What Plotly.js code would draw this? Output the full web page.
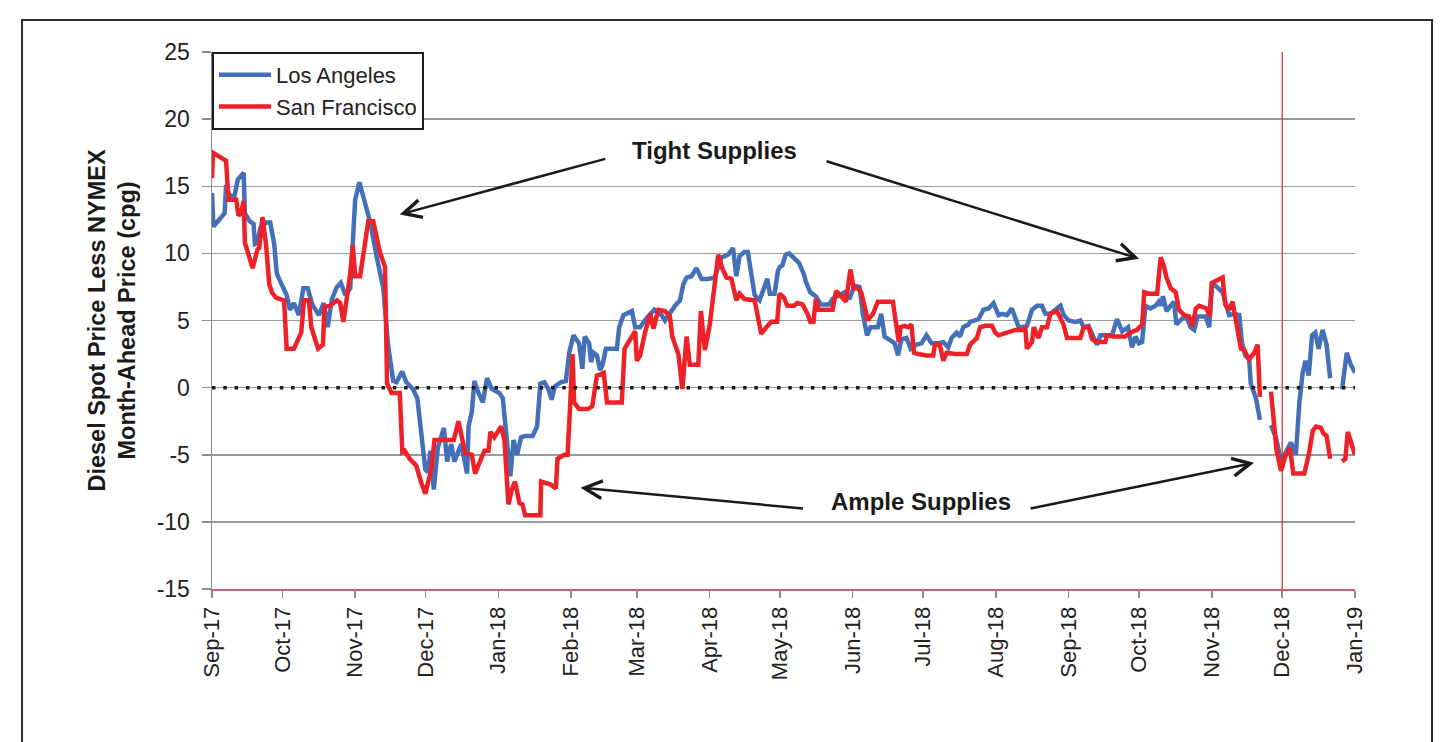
<!DOCTYPE html>
<html>
<head>
<meta charset="utf-8">
<script src="https://cdn.plot.ly/plotly-3.0.1.min.js"></script>
<style>
  html, body { margin: 0; padding: 0; background: #ffffff; }
  #chart { width: 1449px; height: 742px; }
</style>
</head>
<body>
<div id="chart"></div>
<script>
// Day offsets are counted from 1 Sep 2017; null = no price reported.
const startDate = '2017-09-01';

const laSeries = [
  [0,14.5],[0.6,12],[5.4,13],[6,15.1],[7.5,14.3],[9.6,14.3],[11,15.5],[13.5,16.0],[14,13],[16,12.4],
  [17.7,12.2],[18.3,10.7],[19.4,10.8],[20.6,11.9],[23,12.3],[24.8,12.3],[26.5,10.7],[27.6,8.5],[28.6,8.1],
  [30.7,7.4],[31.8,6.9],[33.2,5.8],[34.9,6.3],[37,5.4],[38.9,7.4],[40.8,7.4],[42.7,6.2],[45.5,5.4],[47.6,6.3],
  [49.3,4.5],[51.1,6.6],[53.2,7.5],[54.9,7.8],[56.8,6.9],[58.9,7.4],[60,10.8],[61,14.0],[62.8,15.3],[64.5,14.3],
  [67.3,12.4],[70.1,9.8],[73,7.4],[75,3.2],[76.5,1.6],[77.2,0.5],[78.6,0.4],[81,1.2],[82.8,0.4],[85.6,-0.1],
  [87.5,-0.8],[89.2,-3.3],[90.9,-6.1],[92,-6.3],[93.1,-4.7],[94.5,-7.6],[96.2,-4.5],[98.8,-3.0],[100.2,-5.5],
  [101.9,-4.2],[103.3,-5.5],[106.2,-4.2],[108.7,-6.4],[109.3,-2.9],[110.7,-1.8],[111.8,0.5],[113.5,-0.4],
  [115.4,-1.1],[117.2,0.7],[119.2,-0.1],[122.4,-0.4],[123.9,-0.8],[125.3,-3.7],[127.1,-6.6],[128.5,-3.9],
  [130,-5.0],[131.7,-3.7],[133.4,-3.6],[136.6,-3.6],[138.5,-2.9],[139.9,0.3],[141.6,0.4],[143.3,-0.1],
  [144.7,-0.9],[146.1,0.1],[148.6,0.4],[150.8,0.5],[152.2,2.6],[154,3.9],[156.4,3.3],[157.8,1.4],[158.8,3.8],
  [160.7,3.3],[161.5,1.9],[162.5,2.6],[164,2.4],[165.4,1.3],[166.4,1.7],[167.8,2.9],[172.5,2.9],[173.5,4.5],
  [175.3,5.4],[178.9,5.7],[180.3,4.5],[182.4,4.5],[185.2,5.2],[188.5,5.8],[191.6,5.4],[193,5.0],[195.1,5.6],
  [197.3,6.1],[199.4,6.5],[200.8,7.7],[202.2,8.2],[204.3,8.3],[206.4,8.9],[208.6,8.1],[211.4,8.1],[214.2,8.2],
  [215.7,9.0],[217.1,9.7],[218.5,9.8],[219.9,9.9],[222,10.4],[223.4,8.3],[224.8,9.8],[226.9,10.1],[228.3,10.1],
  [229.8,8.2],[231.2,6.9],[233.3,6.5],[234.7,7.1],[236.6,8.1],[237.7,7.0],[239.7,7.0],[241.1,8.7],[242,9.0],
  [243,9.1],[244.4,9.9],[245.9,10.0],[248.7,9.6],[250.1,9.3],[252.3,8.4],[253,7.9],[254.9,7.1],[257.3,6.8],
  [259.4,6.2],[263,6.2],[264.4,6.6],[266.6,6.8],[269.4,7.1],[271.6,6.6],[273.7,7.6],[275.9,7.5],[277.3,5.5],
  [279.1,3.9],[280.6,4.5],[283.7,4.5],[285.1,5.5],[286.6,3.8],[288.7,3.6],[290.9,3.3],[292.3,2.4],[293.7,3.6],
  [295.9,3.7],[297.7,2.9],[300.1,3.2],[302.3,3.3],[304.4,3.9],[306.6,3.3],[309.4,3.3],[311.6,3.4],[313.7,3.0],
  [315.1,3.7],[317.3,4.1],[318.7,3.8],[320.1,4.5],[322.3,4.7],[323,4.9],[326.6,5.1],[328.7,5.8],[330.9,5.9],
  [333,6.3],[335.1,5.4],[336.6,5.5],[338.7,5.4],[340.8,5.9],[342.3,5.1],[343.7,4.5],[345.1,4.5],[347.2,4.6],
  [349.4,5.8],[351.5,6.1],[353.6,6.1],[355.1,5.5],[357.2,5.5],[359.3,5.8],[361.5,6.1],[362.9,5.4],[365,5.0],
  [367.9,4.9],[370,5.0],[371.4,4.5],[373.5,4.6],[375.7,3.7],[377.1,3.2],[378.5,3.9],[383.5,3.9],[385.6,5.1],
  [387.8,4.2],[390.3,4.5],[392,3.0],[393.5,3.8],[394.9,3.3],[396.3,3.4],[397.7,6.1],[399.9,5.9],[402,6.1],
  [403.4,6.4],[404.2,6.1],[405.2,6.8],[406.7,5.7],[408.5,6.1],[409.9,6.4],[410.9,4.7],[412.3,5.0],[414.2,5.3],
  [415.6,5.1],[417,4.5],[418.5,4.3],[419.9,5.3],[423.4,5.3],[424.9,4.5],[426,7.6],[427.4,7.6],[428.8,7.4],
  [430.6,7.1],[432,6.2],[433.4,5.4],[435.5,5.5],[437.7,5.4],[438.8,3.4],[440.2,2.4],[441.9,2.1],[442.6,0.3],
  [444.8,-0.8],[446.5,-2.4],[449,null],[451.2,-2.8],[453.3,-3.7],[455.5,-5.5],[457.6,-4.7],[459.7,-4.1],
  [461.8,-5.0],[463.3,-1.1],[464.7,1.1],[465.9,2.0],[467.3,0.9],[468.7,3.9],[470.1,4.1],[471.5,2.9],[473.2,4.3],
  [474.9,3.2],[476.4,0.7],[479,null],[481.5,-0.1],[483.5,2.6],[485,1.8],[487,1.1]
];

const sfSeries = [
  [0,15.6],[0.4,17.5],[6,16.9],[7,14.0],[10.3,14.0],[11.3,12.8],[12.4,13],[13.5,13.9],[14,10.8],[16,9.8],
  [17.3,8.9],[19.4,10.3],[20.1,10.4],[21.5,12.7],[23,10.7],[24.4,7.7],[25.5,7.1],[27.2,6.7],[30.7,6.5],
  [31.8,2.9],[34.9,2.9],[38,4.1],[39.2,6.5],[41.3,6.5],[42.3,4.5],[45.2,2.9],[47.3,3.2],[47.9,6.0],[50.4,6.1],
  [53.2,6.5],[54.6,6.3],[56,4.9],[57.5,6.6],[58.9,8.5],[60,10.6],[61,8.3],[63.1,8.3],[64.5,10.1],[66.6,12.4],
  [68.7,12.4],[71.5,10.1],[73.7,9.0],[74.6,0.3],[76.5,-0.4],[80,-0.4],[81.1,-4.8],[82.1,-4.7],[84.2,-5.3],
  [87,-5.8],[89.2,-7.1],[90.9,-7.9],[92,-7.1],[93.4,-6.1],[94.8,-3.9],[97.7,-3.9],[103,-3.9],[105,-2.5],
  [106.2,-3.4],[107.9,-4.9],[110.7,-5.0],[112.1,-6.4],[114.4,-5.4],[116.1,-4.7],[117.8,-4.7],[118.6,-3.3],
  [120.3,-3.7],[123.2,-2.9],[124.6,-3.9],[126.3,-8.7],[127.7,-7.6],[129.1,-7.0],[131,-8.6],[132.3,-8.7],
  [133.4,-9.5],[139.9,-9.5],[140.2,-7.0],[141.6,-7.1],[144.1,-7.2],[146.5,-7.5],[147.2,-5.3],[150.1,-5.0],
  [151.5,-5.0],[152.6,-1.3],[153.6,2.5],[154.3,-1.1],[156.4,-1.6],[160,-1.6],[162,-1.4],[164,0.9],[166.9,1.1],
  [168.3,-1.1],[174.6,-1.1],[175.8,2.9],[178.2,3.6],[180.3,4.2],[181,2.0],[182.4,2.4],[184.5,4.1],[186.7,5.5],
  [188.1,4.4],[190.2,5.8],[193,5.7],[195.1,5.3],[196.1,3.8],[198.7,2.5],[200.4,-0.1],[202.2,3.8],[203.6,1.7],
  [207.2,1.7],[208.3,5.7],[210,2.8],[212.1,4.7],[214.2,7.7],[215.7,9.9],[217.4,8.9],[219.2,8.2],[221.3,8.1],
  [223.4,6.5],[224.8,7.0],[226.9,6.6],[231.2,6.5],[234,4.0],[236.2,4.5],[238.3,4.9],[240.8,4.9],[241.8,7.0],
  [243.7,6.7],[245.1,6.1],[248,6.1],[249.4,6.3],[251.6,6.2],[253.7,5.5],[254.9,4.9],[256.3,4.9],[257.3,6.6],
  [258.3,5.8],[264.4,5.8],[265.9,7.2],[268,6.8],[270.1,6.4],[272,8.8],[273.4,7.4],[275.1,7.4],[276.6,7.1],
  [278,6.1],[279.4,5.0],[281.6,5.5],[283.7,6.4],[290.1,6.4],[291.1,5.0],[292.6,3.4],[293.4,4.5],[295.1,4.6],
  [296.6,4.5],[298,4.7],[299.1,2.6],[300.9,2.5],[304.4,2.4],[307.3,2.4],[308,3.2],[310.1,3.2],[311.6,2.0],
  [313,2.6],[316.6,2.5],[321.6,2.5],[323,3.2],[324.9,3.6],[325.9,3.7],[327.3,4.5],[329.4,4.6],[332.3,4.6],
  [333.7,4.1],[335.1,3.9],[339.4,4.1],[342.3,4.3],[345.1,4.3],[346.5,4.5],[347.2,2.9],[349.4,3.4],[350.1,4.5],
  [352.2,3.7],[353.6,4.5],[355.8,4.5],[357.2,5.5],[360,5.7],[362.8,4.7],[364.3,3.7],[370,3.7],[371.4,4.5],
  [373.5,4.5],[375,3.6],[377.1,3.4],[380.6,3.4],[381.3,3.9],[384.2,3.8],[389.1,3.8],[391.3,4.1],[394.1,4.3],
  [396.3,4.7],[397.2,7.1],[399.1,7.0],[402.7,7.0],[404.2,9.7],[405.5,9.1],[406.7,8.2],[408.5,7.4],[410.6,7.1],
  [412,5.8],[414.2,5.4],[416.3,5.3],[417.7,4.6],[419.2,5.9],[420.6,6.1],[423.7,5.9],[425.1,5.3],[426,7.8],
  [428.4,8.0],[430.6,8.2],[431.7,6.2],[433.4,5.8],[434.8,6.4],[436.2,5.1],[438.4,2.9],[439.8,2.8],[441.9,2.1],
  [444.1,2.6],[445.5,3.2],[446.5,-0.7],[449,null],[451.2,-0.3],[452.2,-2.4],[453.6,-4.7],[455.5,-6.2],
  [457.3,-5.1],[459.3,-4.5],[460.7,-6.4],[465.4,-6.4],[467.3,-5.0],[469,-3.2],[470.4,-2.9],[472.5,-3.0],
  [473.5,-3.4],[474.9,-3.6],[476.4,-5.3],[479,null],[481.5,-5.5],[482.9,-5.3],[483.9,-3.3],[486,-4.6],[487,-5.0]
];

const monthTicks = ['2017-09-01','2017-10-01','2017-11-01','2017-12-01','2018-01-01','2018-02-01','2018-03-01',
  '2018-04-01','2018-05-01','2018-06-01','2018-07-01','2018-08-01','2018-09-01','2018-10-01','2018-11-01',
  '2018-12-01','2019-01-01'];
const monthLabels = ['Sep-17','Oct-17','Nov-17','Dec-17','Jan-18','Feb-18','Mar-18','Apr-18','May-18','Jun-18',
  'Jul-18','Aug-18','Sep-18','Oct-18','Nov-18','Dec-18','Jan-19'];
const yTicks = [25,20,15,10,5,0,-5,-10,-15];
const yLabels = ['25','20','15','10','5','0','-5','-10','-15'];
const markerDate = '2018-12-01';

function toDate(d) {
  const base = Date.parse(startDate + 'T00:00:00Z');
  return new Date(base + d * 86400000).toISOString().slice(0, 19).replace('T', ' ');
}

const FONT = '"Liberation Sans", Arial, sans-serif';

const traces = [
  {
    name: 'Los Angeles', type: 'scatter', mode: 'lines',
    x: laSeries.map(p => toDate(p[0])), y: laSeries.map(p => p[1]),
    connectgaps: false,
    line: { color: '#4370b8', width: 4.5 }
  },
  {
    name: 'San Francisco', type: 'scatter', mode: 'lines',
    x: sfSeries.map(p => toDate(p[0])), y: sfSeries.map(p => p[1]),
    connectgaps: false,
    line: { color: '#ee2128', width: 4.5 }
  }
];

const arrowStyle = { showarrow: true, arrowhead: 5, arrowsize: 1.4, arrowwidth: 2.5, arrowcolor: '#1a1a1a', text: '', axref: 'pixel', ayref: 'pixel' };

const layout = {
  width: 1449, height: 742,
  margin: { l: 212, r: 94, t: 52, b: 153 },
  paper_bgcolor: '#ffffff', plot_bgcolor: '#ffffff',
  font: { family: FONT, color: '#222222', size: 22 },
  showlegend: true,
  legend: {
    x: 0, y: 1, xanchor: 'left', yanchor: 'top',
    bgcolor: '#ffffff', bordercolor: '#1a1a1a', borderwidth: 2,
    font: { family: FONT, size: 22, color: '#222222' },
    itemwidth: 52, tracegroupgap: 0
  },
  xaxis: {
    type: 'date', range: [monthTicks[0], monthTicks[monthTicks.length - 1]],
    tickmode: 'array', tickvals: monthTicks, ticktext: monthLabels, tickangle: -90,
    tickfont: { family: FONT, size: 22, color: '#222222' },
    ticks: 'outside', ticklen: 7, tickcolor: '#8c8c8c', tickwidth: 1.5,
    showgrid: false, zeroline: false, showline: true, linecolor: '#c8656c', linewidth: 2,
    fixedrange: true
  },
  yaxis: {
    range: [-15, 25], tickmode: 'array', tickvals: yTicks, ticktext: yLabels,
    tickfont: { family: FONT, size: 23, color: '#222222' },
    ticks: 'outside', ticklen: 9, tickcolor: '#8c8c8c', tickwidth: 1.5, ticklabelstandoff: 7,
    showgrid: true, gridcolor: '#9a9a9a', gridwidth: 1.5,
    zeroline: false, showline: true, linecolor: '#8c8c8c', linewidth: 1.5,
    title: {
      text: '<b>Diesel Spot Price Less NYMEX</b><br><b>Month-Ahead Price (cpg)</b>',
      font: { family: FONT, size: 23.5, color: '#1a1a1a' },
      standoff: 14
    },
    fixedrange: true
  },
  shapes: [
    { type: 'line', xref: 'paper', x0: 0, x1: 1, yref: 'y', y0: 0, y1: 0,
      line: { color: '#1a1a1a', width: 3.5, dash: '3.5px,7.8px' } },
    { type: 'line', xref: 'x', x0: markerDate, x1: markerDate, yref: 'paper', y0: 0, y1: 1,
      line: { color: '#e0262c', width: 1.2 } },
    { type: 'rect', xref: 'paper', yref: 'paper', x0: -0.1662, x1: 1.0674, y0: -0.33, y1: 1.0596,
      line: { color: '#2a2a2a', width: 2 }, fillcolor: 'rgba(0,0,0,0)', layer: 'below' }
  ],
  annotations: [
    { xref: 'x', yref: 'y', x: '2018-04-03', y: 17.7, text: '<b>Tight Supplies</b>', showarrow: false,
      font: { family: FONT, size: 24, color: '#1a1a1a' } },
    { xref: 'x', yref: 'y', x: '2018-06-30', y: -8.5, text: '<b>Ample Supplies</b>', showarrow: false,
      font: { family: FONT, size: 24, color: '#1a1a1a' } },
    Object.assign({ xref: 'x', yref: 'y', x: '2017-11-20', y: 12.9, ax: 207, ay: -56 }, arrowStyle),
    Object.assign({ xref: 'x', yref: 'y', x: '2018-10-01', y: 9.6, ax: -314, ay: -98 }, arrowStyle),
    Object.assign({ xref: 'x', yref: 'y', x: '2018-02-05', y: -7.45, ax: 224, ay: 21 }, arrowStyle),
    Object.assign({ xref: 'x', yref: 'y', x: '2018-11-19', y: -5.6, ax: -225, ay: 46 }, arrowStyle)
  ]
};

Plotly.newPlot('chart', traces, layout, { displayModeBar: false, staticPlot: true });
</script>
</body>
</html>
